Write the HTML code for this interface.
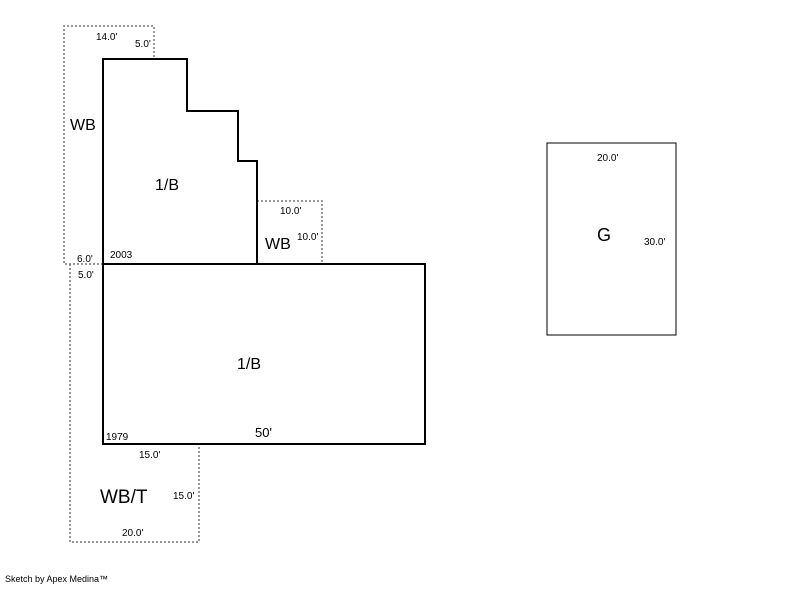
<!DOCTYPE html>
<html><head><style>
body{margin:0;background:#fff;}
svg text{font-family:"Liberation Sans",Arial,sans-serif;fill:#000;}
</style></head><body>
<svg width="800" height="587" xmlns="http://www.w3.org/2000/svg">
<g fill="none" stroke="#777" stroke-width="1.5" stroke-dasharray="2,2">
<polyline points="103,264 64,264 64,26 154,26 154,59"/>
<polyline points="257,201 322,201 322,264"/>
<polyline points="70,264 70,542 199,542 199,444"/>
</g>
<g fill="none" stroke="#000" stroke-width="2">
<polyline points="103,264 103,59 187,59 187,111 238,111 238,161 257,161 257,264"/>
<rect x="103" y="264" width="322" height="180"/>
</g>
<rect x="547" y="143" width="129" height="192" fill="none" stroke="#000" stroke-width="1"/>
<g font-size="10">
<text x="96" y="40">14.0'</text>
<text x="135" y="47">5.0'</text>
<text x="77" y="262">6.0'</text>
<text x="78" y="278">5.0'</text>
<text x="110" y="258">2003</text>
<text x="280" y="214">10.0'</text>
<text x="297" y="240">10.0'</text>
<text x="106" y="440">1979</text>
<text x="139" y="458">15.0'</text>
<text x="173" y="499">15.0'</text>
<text x="122" y="536">20.0'</text>
<text x="597" y="161">20.0'</text>
<text x="644" y="245">30.0'</text>
<text x="5" y="582" font-size="9">Sketch by Apex Medina™</text>
</g>
<g font-size="16">
<text x="70" y="130">WB</text>
<text x="155" y="190">1/B</text>
<text x="265" y="249">WB</text>
<text x="237" y="369">1/B</text>
<text x="100" y="503" font-size="19">WB/T</text>
<text x="597" y="241" font-size="18">G</text>
</g>
<text x="255" y="437" font-size="13" font-family="Liberation Sans">50'</text>
</svg>
</body></html>
